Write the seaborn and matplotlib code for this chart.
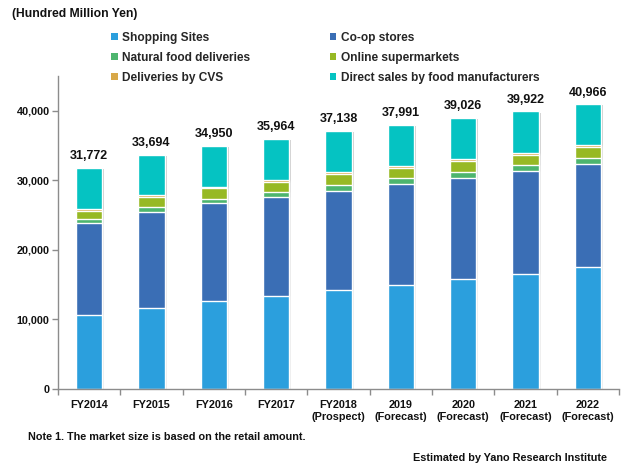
import matplotlib
matplotlib.use("Agg")
import matplotlib.pyplot as plt
import seaborn as sns
import numpy as np
import pandas as pd
from matplotlib.patches import Patch
import matplotlib.patheffects as pe
from matplotlib.ticker import FuncFormatter, FixedLocator

categories = ["FY2014", "FY2015", "FY2016", "FY2017", "FY2018\n(Prospect)",
              "2019\n(Forecast)", "2020\n(Forecast)", "2021\n(Forecast)", "2022\n(Forecast)"]
totals = [31772, 33694, 34950, 35964, 37138, 37991, 39026, 39922, 40966]
shopping_sites = [10700, 11700, 12600, 13350, 14200, 14900, 15760, 16600, 17500]
coop_stores = [13100, 13800, 14100, 14200, 14300, 14600, 14600, 14750, 14900]
natural_food = [650, 700, 650, 800, 850, 870, 800, 850, 850]
online_supermarkets = [1200, 1350, 1500, 1350, 1500, 1340, 1550, 1450, 1550]
deliveries_cvs = [300, 300, 200, 300, 300, 290, 290, 300, 250]
direct_sales = [t - a - b - c - d - e for t, a, b, c, d, e in
                zip(totals, shopping_sites, coop_stores, natural_food, online_supermarkets, deliveries_cvs)]

series_names = ["Shopping Sites", "Co-op stores", "Natural food deliveries",
                "Online supermarkets", "Deliveries by CVS", "Direct sales by food manufacturers"]
series_values = [shopping_sites, coop_stores, natural_food, online_supermarkets, deliveries_cvs, direct_sales]
colors = ["#2B9FDD", "#3A6EB5", "#4DB56E", "#97B924", "#D8A848", "#05C3C2"]

sns.set_theme(style="white")
FONT = ["Liberation Sans", "DejaVu Sans"]
plt.rcParams["font.family"] = FONT
plt.rcParams["font.weight"] = "bold"

fig = plt.figure(figsize=(6.3, 4.75), dpi=100)
ax = fig.add_axes([58/630, 1-389/475, (619-58)/630, (389-76)/475])

cum = np.cumsum(np.array(series_values), axis=0)
for i in range(len(series_names) - 1, -1, -1):
    df = pd.DataFrame({"cat": categories, "val": cum[i]})
    sns.barplot(data=df, x="cat", y="val", color=colors[i], width=0.42,
                edgecolor="white", linewidth=1.0, saturation=1, ax=ax, zorder=2)

# subtle shadow on total bars
for p in ax.containers[0]:
    p.set_path_effects([pe.SimplePatchShadow(offset=(1.5, -1), shadow_rgbFace="#999999", alpha=0.5), pe.Normal()])

ax.bar_label(ax.containers[0], labels=[f"{t:,}" for t in totals], padding=4,
             fontsize=9, fontweight="bold", color="#111111")

ax.set_xlim(-0.5, len(categories) - 0.5)
ax.set_ylim(0, 45000)
ax.set_yticks([0, 10000, 20000, 30000, 40000])
ax.yaxis.set_major_formatter(FuncFormatter(lambda v, p: f"{int(v):,}"))
ax.set_xlabel("")
ax.set_ylabel("")
for s in ["top", "right"]:
    ax.spines[s].set_visible(False)
for s in ["left", "bottom"]:
    ax.spines[s].set_color("#8c8c8c")
    ax.spines[s].set_linewidth(1.0)

ax.tick_params(axis="y", which="major", left=True, length=4, width=1, color="#8c8c8c",
               labelsize=7.8, pad=2, labelcolor="#111111")
ax.tick_params(axis="x", which="major", bottom=False, length=0, labelsize=7.8, pad=8,
               labelcolor="#111111")
ax.xaxis.set_minor_locator(FixedLocator(np.arange(-0.5, len(categories), 1.0)))
ax.tick_params(axis="x", which="minor", bottom=True, length=4, width=1, color="#8c8c8c")
for lab in ax.get_xticklabels():
    lab.set_linespacing(1.2)
    lab.set_fontweight("bold")
for lab in ax.get_yticklabels():
    lab.set_fontweight("bold")
ax.grid(False)

fig.text(12/630, 1-14/475, "(Hundred Million Yen)", fontsize=8.7, fontweight="bold",
         va="center", ha="left", color="#111111")

order = [0, 2, 4, 1, 3, 5]
handles = [Patch(facecolor=colors[i], edgecolor="none", label=series_names[i]) for i in order]
fig.legend(handles=handles, ncol=2, loc="upper left", bbox_to_anchor=(111/630, 1-32/475),
           frameon=False, fontsize=8.6, handlelength=0.55, handleheight=0.55,
           handletextpad=0.35, columnspacing=6.7, labelspacing=0.66, borderaxespad=0,
           borderpad=0)

fig.text(28/630, 1-437/475, "Note 1. The market size is based on the retail amount.",
         fontsize=7.8, fontweight="bold", va="center", ha="left", color="#111111")
fig.text(607/630, 1-458/475, "Estimated by Yano Research Institute",
         fontsize=7.8, fontweight="bold", va="center", ha="right", color="#111111")

fig.savefig("out.png", dpi=100)
